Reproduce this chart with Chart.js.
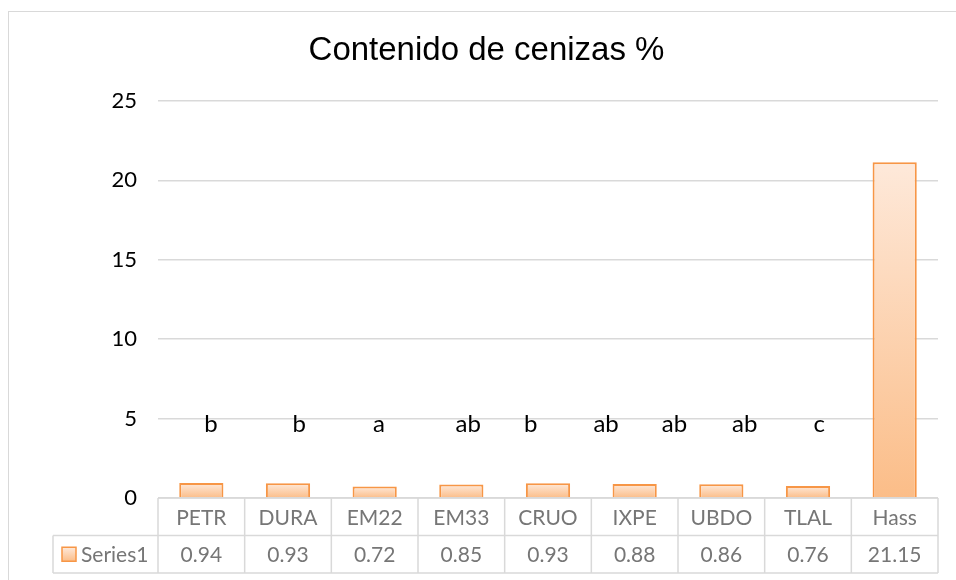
<!DOCTYPE html>
<html>
<head>
<meta charset="utf-8">
<script src="https://cdn.jsdelivr.net/npm/chart.js@4.4.1/dist/chart.umd.min.js"></script>
<style>
  html, body { margin: 0; padding: 0; background: #fff; }
  #wrap { position: relative; width: 956px; height: 580px; overflow: hidden; }
  #frame { position: absolute; left: 8px; top: 11px; width: 1000px; height: 700px; border: 1px solid #d9d9d9; box-sizing: border-box; }
  canvas { position: absolute; left: 0; top: 0; }
</style>
</head>
<body>
<div id="wrap">
  <div id="frame"></div>
  <canvas id="c" width="956" height="580"></canvas>
</div>
<script>
// ---- data ----
const chartTitle = 'Contenido de cenizas %';
const seriesName = 'Series1';
const categories = ['PETR', 'DURA', 'EM22', 'EM33', 'CRUO', 'IXPE', 'UBDO', 'TLAL', 'Hass'];
const values = [0.94, 0.93, 0.72, 0.85, 0.93, 0.88, 0.86, 0.76, 21.15];
const valueLabels = ['0.94', '0.93', '0.72', '0.85', '0.93', '0.88', '0.86', '0.76', '21.15'];
const letters = ['b', 'b', 'a', 'ab', 'b', 'ab', 'ab', 'ab', 'c'];
const letterPos = [0.11, 1.13, 2.05, 3.08, 3.80, 4.67, 5.46, 6.27, 7.13]; // in category units
const letterLevel = 4.16; // y value of letter baseline
const yMin = 0, yMax = 25, yStep = 5;

const FONT = 'Lato, "Open Sans", sans-serif';

function barGradient(ctx) {
  const chart = ctx.chart;
  const area = chart.chartArea;
  if (!area || ctx.type !== 'data') return '#fcd3b0';
  const y = chart.scales.y;
  const top = y.getPixelForValue(values[ctx.dataIndex]);
  const bottom = y.getPixelForValue(0);
  if (!isFinite(top) || bottom - top < 1) return '#fcd3b0';
  const g = chart.ctx.createLinearGradient(0, top, 0, bottom);
  g.addColorStop(0, '#fee9da');
  g.addColorStop(1, '#fbbd88');
  return g;
}

const tablePlugin = {
  id: 'tablePlugin',
  afterDraw(chart) {
    const c = chart.ctx;
    const a = chart.chartArea;
    const x = chart.scales.x;
    const y = chart.scales.y;
    const n = categories.length;
    const rowH = 37.5;
    const r0 = a.bottom, r1 = a.bottom + rowH, r2 = a.bottom + 2 * rowH;
    const legendLeft = 53;
    const colW = (a.right - a.left) / n;

    // title
    c.save();
    c.fillStyle = '#000';
    c.font = '33px "Liberation Sans", Arial, sans-serif';
    c.textAlign = 'center';
    c.textBaseline = 'alphabetic';
    c.fillText(chartTitle, 486.5, 60);
    c.restore();

    // significance letters
    c.save();
    c.fillStyle = '#000';
    c.font = '24px ' + FONT;
    c.textAlign = 'center';
    c.textBaseline = 'alphabetic';
    letters.forEach((l, i) => {
      c.fillText(l, x.getPixelForValue(letterPos[i]), y.getPixelForValue(letterLevel));
    });
    c.restore();

    // table grid
    c.save();
    c.strokeStyle = '#d9d9d9';
    c.lineWidth = 1.5;
    c.beginPath();
    c.moveTo(a.left, r0); c.lineTo(a.right, r0);
    c.moveTo(legendLeft, r1); c.lineTo(a.right, r1);
    c.moveTo(legendLeft, r2); c.lineTo(a.right, r2);
    for (let i = 0; i <= n; i++) {
      const xx = a.left + i * colW;
      c.moveTo(xx, r0); c.lineTo(xx, r2);
    }
    c.moveTo(legendLeft, r1); c.lineTo(legendLeft, r2);
    c.stroke();

    // table text
    c.fillStyle = '#767676';
    c.font = '21px ' + FONT;
    c.textAlign = 'center';
    c.textBaseline = 'middle';
    categories.forEach((cat, i) => {
      const cx = x.getPixelForValue(i);
      c.fillText(cat, cx, (r0 + r1) / 2 + 1);
      c.fillText(valueLabels[i], cx, (r1 + r2) / 2 + 1);
    });

    // legend key
    const ky = (r1 + r2) / 2;
    const g = c.createLinearGradient(0, ky - 7, 0, ky + 7);
    g.addColorStop(0, '#fee9da');
    g.addColorStop(1, '#fbbd88');
    c.fillStyle = g;
    c.fillRect(62, ky - 7, 14, 14);
    c.strokeStyle = '#f79646';
    c.lineWidth = 1.5;
    c.strokeRect(62, ky - 7, 14, 14);
    c.fillStyle = '#767676';
    c.textAlign = 'left';
    c.fillText(seriesName, 81, ky + 1);
    c.restore();
  }
};

new Chart(document.getElementById('c'), {
  type: 'bar',
  data: {
    labels: categories,
    datasets: [{
      label: seriesName,
      data: values,
      backgroundColor: barGradient,
      borderColor: '#f79646',
      borderWidth: 2,
      barPercentage: 0.51,
      categoryPercentage: 1
    }]
  },
  options: {
    responsive: false,
    animation: false,
    devicePixelRatio: 1,
    layout: { padding: { top: 101, bottom: 82, right: 18, left: 0 } },
    plugins: {
      legend: { display: false },
      title: { display: false },
      tooltip: { enabled: false }
    },
    scales: {
      x: { display: false, grid: { display: false } },
      y: {
        min: yMin, max: yMax,
        ticks: { stepSize: yStep, color: '#000', font: { family: FONT, size: 22 }, padding: 21 },
        grid: { color: '#d9d9d9', lineWidth: 1.5, drawTicks: false },
        border: { display: false },
        afterFit(s) { s.width = 158; }
      }
    }
  },
  plugins: [tablePlugin]
});
</script>
</body>
</html>
